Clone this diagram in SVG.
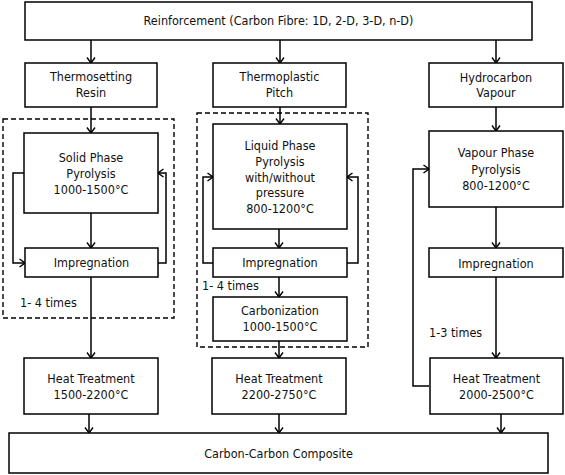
<svg xmlns="http://www.w3.org/2000/svg" width="565" height="475" viewBox="0 0 565 475">
<style>
.box{fill:#fff;stroke:#000;stroke-width:1.5}
.dash{fill:none;stroke:#000;stroke-width:1.4;stroke-dasharray:5,3}
.arr{fill:none;stroke:#000;stroke-width:1.5;marker-end:url(#ah)}
text{font-family:"DejaVu Sans Condensed","DejaVu Sans","Liberation Sans",sans-serif;font-stretch:condensed;font-size:12.5px;fill:#111;text-anchor:middle}
.lbl{text-anchor:start}
</style>
<defs>
<marker id="ah" markerUnits="userSpaceOnUse" markerWidth="10" markerHeight="10" viewBox="0 0 10 10" refX="9" refY="5" orient="auto">
<path d="M3.5,1 L9,5 L3.5,9" fill="none" stroke="#000" stroke-width="1.4"/>
</marker>
</defs>
<rect x="0" y="0" width="565" height="475" fill="#fff"/>
<g id="groups">
<rect id="loop-left" class="dash" x="3" y="119" width="171" height="199"/>
<rect id="loop-middle" class="dash" x="197" y="113" width="171" height="234"/>
</g>
<g id="connectors">
<path class="arr" d="M91,40 V63"/>
<path class="arr" d="M280,40 V63"/>
<path class="arr" d="M496,40 V63"/>
<path class="arr" d="M91,107 V133"/>
<path class="arr" d="M91,213 V248"/>
<path class="arr" d="M24,173 H13 V263 H25"/>
<path class="arr" d="M158,263 H166 V173 H158"/>
<path class="arr" d="M91,277 V358"/>
<path class="arr" d="M89,414 V433"/>
<path class="arr" d="M280,107 V124"/>
<path class="arr" d="M279,229 V248"/>
<path class="arr" d="M213,263 H203 V177 H213"/>
<path class="arr" d="M347,263 H358 V177 H347"/>
<path class="arr" d="M279,277 V297"/>
<path class="arr" d="M279,341 V358"/>
<path class="arr" d="M279,414 V433"/>
<path class="arr" d="M496,107 V131"/>
<path class="arr" d="M496,207 V248"/>
<path class="arr" d="M496,277 V358"/>
<path class="arr" d="M429,386 H413 V169 H429"/>
<path class="arr" d="M501,414 V433"/>
</g>
<g id="reinforcement"><rect class="box" x="25" y="2" width="507" height="38"/><text x="278.5" y="25">Reinforcement (Carbon Fibre: 1D, 2-D, 3-D, n-D)</text></g>
<g id="thermosetting"><rect class="box" x="25" y="63" width="132" height="44"/><text x="91" y="81">Thermosetting</text><text x="91" y="97">Resin</text></g>
<g id="thermoplastic"><rect class="box" x="213" y="63" width="133" height="44"/><text x="279.5" y="81">Thermoplastic</text><text x="279.5" y="97">Pitch</text></g>
<g id="hydrocarbon"><rect class="box" x="429" y="63" width="134" height="44"/><text x="496" y="82">Hydrocarbon</text><text x="496" y="97">Vapour</text></g>
<g id="solid-phase"><rect class="box" x="24" y="133" width="134" height="80"/><text x="91" y="162">Solid Phase</text><text x="91" y="178">Pyrolysis</text><text x="91" y="194">1000-1500°C</text></g>
<g id="impregnation-1"><rect class="box" x="25" y="248" width="133" height="29"/><text x="91.5" y="267">Impregnation</text></g>
<text id="times-1" class="lbl" x="20" y="307">1- 4 times</text>
<g id="heat-1"><rect class="box" x="24" y="358" width="134" height="56"/><text x="91" y="383">Heat Treatment</text><text x="91" y="399">1500-2200°C</text></g>
<g id="liquid-phase"><rect class="box" x="213" y="124" width="134" height="105"/><text x="280" y="150">Liquid Phase</text><text x="280" y="166">Pyrolysis</text><text x="280" y="182">with/without</text><text x="280" y="197">pressure</text><text x="280" y="213">800-1200°C</text></g>
<g id="impregnation-2"><rect class="box" x="213" y="248" width="134" height="29"/><text x="280" y="267">Impregnation</text></g>
<text id="times-2" class="lbl" x="202" y="290">1- 4 times</text>
<g id="carbonization"><rect class="box" x="213" y="297" width="134" height="44"/><text x="280" y="315">Carbonization</text><text x="280" y="331">1000-1500°C</text></g>
<g id="heat-2"><rect class="box" x="212" y="358" width="134" height="56"/><text x="279" y="383">Heat Treatment</text><text x="279" y="399">2200-2750°C</text></g>
<g id="vapour-phase"><rect class="box" x="429" y="131" width="134" height="76"/><text x="496" y="157">Vapour Phase</text><text x="496" y="174">Pyrolysis</text><text x="496" y="190">800-1200°C</text></g>
<g id="impregnation-3"><rect class="box" x="429" y="248" width="134" height="29"/><text x="496" y="268">Impregnation</text></g>
<text id="times-3" class="lbl" x="429" y="337">1-3 times</text>
<g id="heat-3"><rect class="box" x="430" y="358" width="133" height="56"/><text x="496.5" y="383">Heat Treatment</text><text x="496.5" y="399">2000-2500°C</text></g>
<g id="composite"><rect class="box" x="9" y="433" width="539" height="40"/><text x="278.5" y="458">Carbon-Carbon Composite</text></g>
</svg>
